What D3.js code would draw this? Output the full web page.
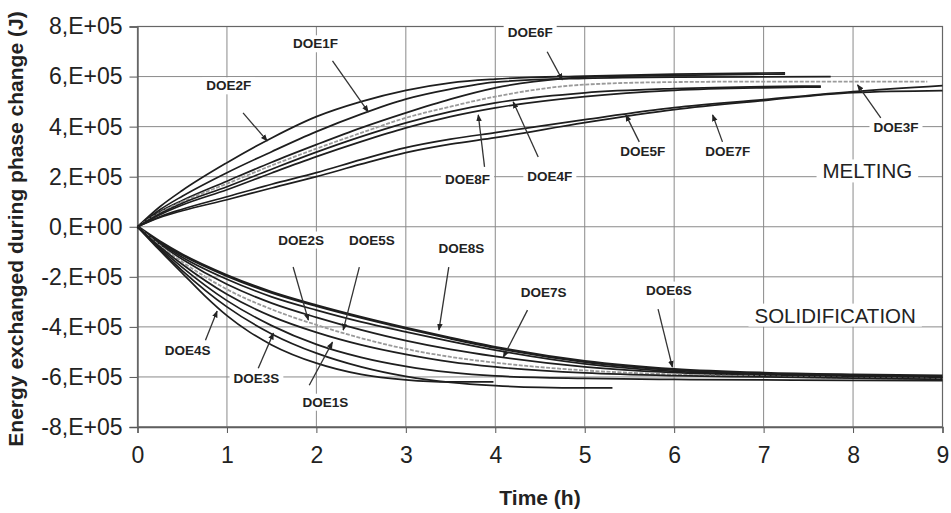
<!DOCTYPE html>
<html><head><meta charset="utf-8">
<script src="https://cdn.jsdelivr.net/npm/d3@7"></script>
<style>
body{margin:0;background:#fff}
svg{display:block}
text{font-family:Arial,"Liberation Sans",Helvetica,sans-serif;fill:#222}
</style>
</head><body>
<svg id="chart" width="951" height="513"></svg>
<script>
// ---------- data ----------
const xTicks = [0,1,2,3,4,5,6,7,8,9];
const xTickLabels = ["0","1","2","3","4","5","6","7","8","9"];
const yTicks = [-8e5,-6e5,-4e5,-2e5,0,2e5,4e5,6e5,8e5];
const yTickLabels = ["-8,E+05","-6,E+05","-4,E+05","-2,E+05","0,E+00","2,E+05","4,E+05","6,E+05","8,E+05"];

// Melting curves: [time (h), energy (J)]
const DOE2F = [[0,0],[0.25,0.8e5],[0.5,1.45e5],[1,2.56e5],[1.5,3.55e5],[2,4.4e5],[2.5,5.0e5],[3,5.45e5],[3.5,5.75e5],[4,5.9e5],[5,6.02e5],[6,6.1e5],[7.24,6.15e5]];
const DOE1F = [[0,0],[0.25,0.68e5],[0.5,1.22e5],[1,2.16e5],[1.5,3.0e5],[2,3.8e5],[2.5,4.5e5],[3,5.1e5],[3.5,5.5e5],[4,5.78e5],[5,5.93e5],[6,5.98e5],[7.75,6.0e5]];
const DOE6F = [[0,0],[0.25,0.6e5],[0.5,1.05e5],[1,1.82e5],[1.5,2.58e5],[2,3.28e5],[2.5,3.95e5],[3,4.55e5],[3.5,5.1e5],[4,5.55e5],[4.75,5.92e5],[5,5.98e5],[6,6.05e5],[7.24,6.1e5]];
const DOE3F = [[0,0],[0.25,0.56e5],[0.5,1.0e5],[1,1.72e5],[1.5,2.45e5],[2,3.12e5],[2.5,3.75e5],[3,4.35e5],[3.5,4.8e5],[4,5.2e5],[5,5.68e5],[6,5.78e5],[7,5.8e5],[8.83,5.8e5]];
const DOE4F = [[0,0],[0.25,0.52e5],[0.5,0.94e5],[1,1.6e5],[1.5,2.3e5],[2,2.98e5],[2.5,3.6e5],[3,4.15e5],[3.5,4.6e5],[4,4.95e5],[5,5.35e5],[6,5.52e5],[7,5.6e5],[7.64,5.62e5]];
const DOE8F = [[0,0],[0.25,0.48e5],[0.5,0.87e5],[1,1.48e5],[1.5,2.15e5],[2,2.8e5],[2.5,3.4e5],[3,3.95e5],[3.5,4.4e5],[4,4.75e5],[5,5.2e5],[6,5.45e5],[7,5.55e5],[7.64,5.58e5]];
const DOE5F = [[0,0],[0.25,0.4e5],[0.5,0.7e5],[1,1.2e5],[1.5,1.7e5],[2,2.16e5],[2.5,2.68e5],[3,3.16e5],[3.5,3.5e5],[4,3.76e5],[5,4.28e5],[6,4.76e5],[7,5.08e5],[8,5.4e5],[9,5.64e5]];
const DOE7F = [[0,0],[0.25,0.37e5],[0.5,0.64e5],[1,1.08e5],[1.5,1.55e5],[2,2.0e5],[2.5,2.5e5],[3,2.96e5],[3.5,3.3e5],[4,3.56e5],[5,4.16e5],[6,4.68e5],[7,5.04e5],[8,5.36e5],[9,5.44e5]];

// Solidification curves
const DOE8S = [[0,0],[0.25,-0.6e5],[0.5,-1.12e5],[1,-1.95e5],[1.5,-2.62e5],[2,-3.15e5],[2.5,-3.62e5],[3,-4.05e5],[3.5,-4.45e5],[4,-4.82e5],[5,-5.38e5],[6,-5.7e5],[7,-5.85e5],[8,-5.92e5],[9,-5.96e5]];
const DOE6S = [[0,0],[0.25,-0.65e5],[0.5,-1.22e5],[1,-2.1e5],[1.5,-2.8e5],[2,-3.33e5],[2.5,-3.8e5],[3,-4.2e5],[3.5,-4.58e5],[4,-4.93e5],[5,-5.48e5],[6,-5.78e5],[7,-5.9e5],[8,-5.97e5],[9,-6.02e5]];
const DOE7S = [[0,0],[0.25,-0.7e5],[0.5,-1.3e5],[1,-2.3e5],[1.5,-3.05e5],[2,-3.62e5],[2.5,-4.12e5],[3,-4.55e5],[3.5,-4.9e5],[4,-5.18e5],[5,-5.6e5],[6,-5.83e5],[7,-5.94e5],[8,-6.0e5],[9,-6.05e5]];
const DOE2S = [[0,0],[0.25,-0.75e5],[0.5,-1.4e5],[1,-2.5e5],[1.5,-3.3e5],[2,-3.92e5],[2.5,-4.45e5],[3,-4.88e5],[3.5,-5.2e5],[4,-5.43e5],[5,-5.74e5],[6,-5.9e5],[7,-5.98e5],[8,-6.04e5],[9,-6.08e5]];
const DOE5S = [[0,0],[0.25,-0.8e5],[0.5,-1.5e5],[1,-2.7e5],[1.5,-3.58e5],[2,-4.22e5],[2.5,-4.72e5],[3,-5.1e5],[3.5,-5.4e5],[4,-5.6e5],[5,-5.84e5],[6,-5.95e5],[7,-6.0e5],[8,-6.05e5],[9,-6.1e5]];
const DOE1S = [[0,0],[0.25,-0.85e5],[0.5,-1.62e5],[1,-2.95e5],[1.5,-3.95e5],[2,-4.7e5],[2.5,-5.22e5],[3,-5.58e5],[3.5,-5.82e5],[4,-5.96e5],[5,-6.06e5],[6,-6.1e5],[7,-6.12e5],[8,-6.14e5],[9,-6.15e5]];
const DOE3S = [[0,0],[0.25,-0.9e5],[0.5,-1.75e5],[1,-3.2e5],[1.5,-4.28e5],[2,-5.05e5],[2.5,-5.6e5],[3,-5.98e5],[3.5,-6.22e5],[4,-6.35e5],[4.5,-6.42e5],[5,-6.44e5],[5.31,-6.44e5]];
const DOE4S = [[0,0],[0.25,-0.95e5],[0.5,-1.85e5],[0.75,-2.75e5],[1,-3.55e5],[1.25,-4.2e5],[1.5,-4.72e5],[2,-5.45e5],[2.5,-5.9e5],[3,-6.12e5],[3.5,-6.2e5],[3.98,-6.2e5]];

const seriesNames = ["DOE2F","DOE1F","DOE6F","DOE3F","DOE4F","DOE8F","DOE5F","DOE7F",
                     "DOE6S","DOE8S","DOE7S","DOE2S","DOE5S","DOE1S","DOE3S","DOE4S"];
const seriesData = [DOE2F,DOE1F,DOE6F,DOE3F,DOE4F,DOE8F,DOE5F,DOE7F,
                    DOE6S,DOE8S,DOE7S,DOE2S,DOE5S,DOE1S,DOE3S,DOE4S];

// Annotation labels: text position and arrow (tail -> tip), in data units
const annLabels = ["DOE1F","DOE2F","DOE6F","DOE8F","DOE4F","DOE5F","DOE7F","DOE3F",
                   "DOE2S","DOE5S","DOE8S","DOE7S","DOE6S","DOE4S","DOE3S","DOE1S"];
const annText = [[1.99,7.31e5],[1.02,5.63e5],[4.39,7.75e5],[3.69,1.87e5],[4.61,1.99e5],[5.65,2.99e5],[6.6,2.99e5],[8.48,3.95e5],
                 [1.83,-0.53e5],[2.62,-0.53e5],[3.62,-0.85e5],[4.54,-2.61e5],[5.94,-2.53e5],[0.56,-4.93e5],[1.33,-6.05e5],[2.1,-7.01e5]];
const annTail = [[2.18,6.63e5],[1.18,4.55e5],[4.58,6.99e5],[3.88,2.39e5],[4.48,2.79e5],[5.61,3.39e5],[6.54,3.39e5],[8.31,4.35e5],
                 [1.74,-1.61e5],[2.48,-1.61e5],[3.48,-1.61e5],[4.36,-3.33e5],[5.82,-3.29e5],[0.76,-4.53e5],[1.35,-5.65e5],[1.92,-6.33e5]];
const annTip = [[2.58,4.59e5],[1.45,3.43e5],[4.75,5.87e5],[3.81,4.47e5],[4.2,4.99e5],[5.46,4.47e5],[6.43,4.47e5],[8.05,5.67e5],
                [1.91,-3.73e5],[2.3,-4.13e5],[3.37,-4.13e5],[4.09,-5.21e5],[5.98,-5.61e5],[0.89,-3.37e5],[1.52,-4.25e5],[2.18,-4.61e5]];
const regionLabels = ["MELTING","SOLIDIFICATION"];
const regionPos = [[8.16,2.23e5],[7.8,-3.53e5]];

// ---------- drawing ----------
const svg = d3.select("#chart");
const x = d3.scaleLinear().domain([0,9]).range([137.5,942.5]);
const y = d3.scaleLinear().domain([-8e5,8e5]).range([427,26.5]);

const defs = svg.append("defs");
defs.append("marker").attr("id","ah").attr("viewBox","0 0 10 10")
  .attr("refX",9).attr("refY",5).attr("markerWidth",7).attr("markerHeight",7)
  .attr("orient","auto").attr("markerUnits","userSpaceOnUse")
  .append("path").attr("d","M0,1 L10,5 L0,9 Z").attr("fill","#222");

// grid
const grid = svg.append("g");
grid.selectAll(".hg").data(yTicks).join("line")
  .attr("x1",x(0)).attr("x2",x(9)).attr("y1",d=>y(d)).attr("y2",d=>y(d))
  .attr("stroke","#8a8a8a").attr("stroke-width",1);
grid.selectAll(".vg").data(xTicks).join("line")
  .attr("x1",d=>x(d)).attr("x2",d=>x(d)).attr("y1",y(8e5)).attr("y2",y(-8e5))
  .attr("stroke","#8a8a8a").attr("stroke-width",1);

// axes
const yAxis = d3.axisLeft(y).tickValues(yTicks)
  .tickFormat((d,i)=>yTickLabels[i]).tickSize(8).tickPadding(7);
const gy = svg.append("g").attr("transform",`translate(${x(0)},0)`).call(yAxis);
gy.select(".domain").attr("stroke","#555").attr("stroke-width",1.3);
gy.selectAll(".tick line").attr("stroke","#555");
gy.selectAll(".tick text").attr("font-size",23).attr("fill","#222")
  .attr("font-family","Arial, 'Liberation Sans', sans-serif");

const xAxis = d3.axisBottom(x).tickValues(xTicks)
  .tickFormat((d,i)=>xTickLabels[i]).tickSize(6).tickPadding(14);
const gx = svg.append("g").attr("transform",`translate(0,${y(-8e5)})`).call(xAxis);
gx.select(".domain").attr("stroke","#555").attr("stroke-width",1.3);
gx.selectAll(".tick line").attr("stroke","#555");
gx.selectAll(".tick text").attr("font-size",23).attr("fill","#222")
  .attr("font-family","Arial, 'Liberation Sans', sans-serif");

// frame
svg.append("rect").attr("x",x(0)).attr("y",y(8e5))
  .attr("width",x(9)-x(0)).attr("height",y(-8e5)-y(8e5))
  .attr("fill","none").attr("stroke","#666").attr("stroke-width",1.2);

// label backgrounds (white boxes that interrupt grid lines)
const labelLayer = svg.append("g");

// curves
const line = d3.line().x(d=>x(d[0])).y(d=>y(d[1])).curve(d3.curveMonotoneX);
const curves = svg.append("g");
seriesData.forEach((s,i)=>{
  const name = seriesNames[i];
  const gray = (name==="DOE3F"||name==="DOE2S");
  const thick = (name==="DOE8S");
  curves.append("path").datum(s).attr("d",line)
    .attr("fill","none")
    .attr("stroke", gray ? "#9a9a9a" : "#1e1e1e")
    .attr("stroke-width", thick ? 3 : (gray ? 1.8 : 1.7))
    .attr("stroke-dasharray", gray ? "4,1.5" : null)
    .attr("stroke-linejoin","round");
});

// annotations
const ann = svg.append("g");
annLabels.forEach((lab,i)=>{
  const t = ann.append("text").attr("x",x(annText[i][0])).attr("y",y(annText[i][1]))
    .attr("text-anchor","middle").attr("dominant-baseline","central")
    .attr("font-size",13.5).attr("font-weight","bold").attr("fill","#2a2a2a").text(lab);
  const bb = t.node().getBBox();
  labelLayer.append("rect").attr("x",bb.x-4).attr("y",bb.y-1).attr("width",bb.width+8).attr("height",bb.height+2).attr("fill","#fff");
  ann.append("line")
    .attr("x1",x(annTail[i][0])).attr("y1",y(annTail[i][1]))
    .attr("x2",x(annTip[i][0])).attr("y2",y(annTip[i][1]))
    .attr("stroke","#333").attr("stroke-width",1.3).attr("marker-end","url(#ah)");
});
regionLabels.forEach((lab,i)=>{
  const t = ann.append("text").attr("x",x(regionPos[i][0])).attr("y",y(regionPos[i][1]))
    .attr("text-anchor","middle").attr("dominant-baseline","central")
    .attr("font-size",20.5).attr("fill","#2a2a2a").text(lab);
  const bb = t.node().getBBox();
  labelLayer.append("rect").attr("x",bb.x-6).attr("y",bb.y).attr("width",bb.width+12).attr("height",bb.height).attr("fill","#fff");
});

// axis titles
svg.append("text").attr("x",540).attr("y",497)
  .attr("text-anchor","middle").attr("dominant-baseline","central")
  .attr("font-size",21).attr("font-weight","bold").attr("fill","#222").text("Time (h)");
svg.append("text").attr("transform","translate(15,229) rotate(-90)")
  .attr("text-anchor","middle").attr("dominant-baseline","central")
  .attr("font-size",21).attr("font-weight","bold").attr("fill","#222")
  .text("Energy exchanged during phase change (J)");
</script>
</body></html>
